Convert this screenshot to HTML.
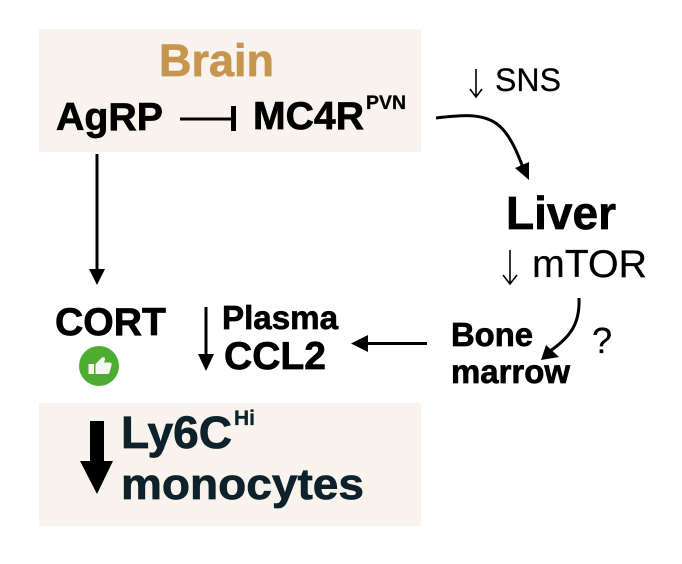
<!DOCTYPE html>
<html>
<head>
<meta charset="utf-8">
<style>
html,body{margin:0;padding:0;background:#fff;width:682px;height:564px;overflow:hidden}
svg{display:block}
text{font-family:"Liberation Sans",Arial,sans-serif;fill:#000}
.b{font-weight:700;stroke:#000;stroke-width:.7px}
.r{stroke:#000;stroke-width:.25px}
.d{fill:#10202c;stroke:#10202c}
.g{fill:#c6954f;stroke:#c6954f}
</style>
</head>
<body>
<svg width="682" height="564" viewBox="0 0 682 564" xmlns="http://www.w3.org/2000/svg">
<defs><filter id="s" x="-2%" y="-2%" width="104%" height="104%"><feGaussianBlur stdDeviation="0.35"/></filter></defs>
<rect x="39" y="29" width="382" height="123" fill="#f8f3ec"/>
<rect x="39" y="403" width="382" height="123" fill="#f8f3ec"/>
<g filter="url(#s)">
<text class="b g" x="159" y="76" font-size="45" textLength="115" lengthAdjust="spacingAndGlyphs">Brain</text>
<text class="b" x="56" y="130" font-size="39" textLength="107" lengthAdjust="spacingAndGlyphs">AgRP</text>
<text class="b" x="253" y="129" font-size="39" textLength="111" lengthAdjust="spacingAndGlyphs">MC4R</text>
<text class="b" x="366" y="109" font-size="19.5" textLength="40" lengthAdjust="spacingAndGlyphs" style="stroke-width:.3px">PVN</text>
<rect x="180" y="117.500" width="54" height="3" fill="#000"/>
<rect x="231" y="106" width="5" height="25" fill="#000"/>

<line x1="97" y1="154" x2="97" y2="272" stroke="#000" stroke-width="3"/>
<polygon points="89,269 105,269 97,285" fill="#000"/>

<text class="r" x="495" y="91" font-size="32" textLength="66" lengthAdjust="spacingAndGlyphs">SNS</text>
<path d="M476 69V97M470 89L476 97L482 89" fill="none" stroke="#000" stroke-width="1.6"/>
<path d="M436 118C462 115 482 113 497 124C508 132 516 148 523 168" fill="none" stroke="#000" stroke-width="3"/>
<polygon points="515,168 529,162 529,180" fill="#000"/>

<text class="b" x="506" y="229" font-size="46" textLength="110" lengthAdjust="spacingAndGlyphs">Liver</text>
<text class="r" x="532" y="277" font-size="39" textLength="115" lengthAdjust="spacingAndGlyphs">mTOR</text>
<path d="M510 250V284M503 275L510 284L517 275" fill="none" stroke="#000" stroke-width="1.6"/>
<path d="M579 298C580 322 572 336 550 351" fill="none" stroke="#000" stroke-width="3"/>
<polygon points="546,345 559,357 541,360" fill="#000"/>
<text class="r" x="592" y="353" font-size="36">?</text>

<text class="b" x="451" y="346" font-size="33" textLength="82" lengthAdjust="spacingAndGlyphs">Bone</text>
<text class="b" x="451" y="383" font-size="33" textLength="119" lengthAdjust="spacingAndGlyphs">marrow</text>

<line x1="427" y1="343.500" x2="365" y2="343.500" stroke="#000" stroke-width="3"/>
<polygon points="351,343.500 368,335 368,352" fill="#000"/>

<text class="b" x="55" y="335" font-size="39" textLength="111" lengthAdjust="spacingAndGlyphs">CORT</text>
<circle cx="99" cy="366" r="20" fill="#4fac33"/>
<path d="M88.500 364h5.500v10h-5.500zM95.500 364l6-6c2-1.500 4-.5 3.500 1.500l-1 3h5.500c1.800 0 2.500 1.300 2 3l-2 7c-.4 1.200-1 1.500-2.200 1.500h-11.800z" fill="#f4f7f0"/>

<line x1="206" y1="307" x2="206" y2="356" stroke="#000" stroke-width="3"/>
<polygon points="198,354 214,354 206,371" fill="#000"/>
<text class="b" x="222" y="329" font-size="33" textLength="116" lengthAdjust="spacingAndGlyphs">Plasma</text>
<text class="b" x="224" y="369" font-size="39" textLength="102" lengthAdjust="spacingAndGlyphs">CCL2</text>

<polygon points="90,421 104,421 104,461 113,461 97,494 80,461 90,461" fill="#000"/>
<text class="b d" x="121" y="448" font-size="45" textLength="111" lengthAdjust="spacingAndGlyphs">Ly6C</text>
<text class="b d" x="234" y="425" font-size="21" textLength="21" lengthAdjust="spacingAndGlyphs" style="stroke-width:.3px">Hi</text>
<text class="b d" x="121" y="499" font-size="44" textLength="243" lengthAdjust="spacingAndGlyphs">monocytes</text>
</g>
</svg>
</body>
</html>
